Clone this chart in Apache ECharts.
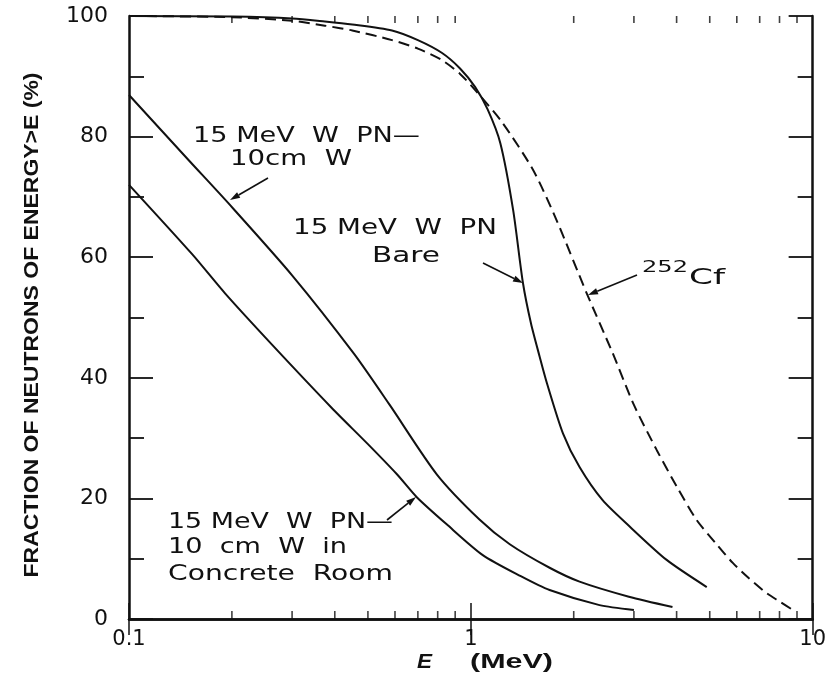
<!DOCTYPE html>
<html><head><meta charset="utf-8">
<script src="https://cdn.jsdelivr.net/npm/echarts@6/dist/echarts.min.js"></script>
<style>html,body{margin:0;padding:0;background:#fff}#c{width:829px;height:685px}</style>
</head><body><div id="c"></div>
<script>
// ---- data ----
const xTickLabels = ['0.1', '1', '10'];
const yTicks = [0, 20, 40, 60, 80, 100];
const minorTickE = [0.2,0.3,0.4,0.5,0.6,0.7,0.8,0.9,2,3,4,5,6,7,8,9];

const bareE = [0.1,0.2,0.3,0.374,0.45,0.588,0.7,0.822,0.93,1.03,1.12,1.22,1.33,1.42,1.5,1.59,1.67,1.86,2.08,2.43,2.92,3.74,4.9];
const bareF = [100,99.9,99.6,99.1,98.6,97.6,96.0,93.9,91.3,88.2,84.5,78.9,67.8,55.8,49.0,43.5,39.1,30.8,25.2,19.7,15.3,9.8,5.3];

const cfE = [0.1,0.2,0.3,0.374,0.45,0.588,0.7,0.822,0.93,1.03,1.23,1.52,1.78,2.18,2.6,3.0,3.5,4.0,4.58,5.2,5.84,6.5,7.33,8.0,8.75];
const cfF = [100,99.8,99.2,98.4,97.6,96.0,94.6,92.7,90.4,87.7,82.5,74.5,66.2,54.1,44.1,35.5,28.0,22.0,16.4,12.6,9.3,6.8,4.3,2.9,1.5];

const wallE = [0.1,0.15,0.195,0.3,0.455,0.579,0.795,1.06,1.3,1.7,2.08,2.9,3.89];
const wallF = [86.9,76.0,69.0,57.0,44.0,35.5,24.0,16.5,12.4,8.5,6.2,3.7,2.0];

const roomE = [0.1,0.153,0.191,0.262,0.392,0.5,0.608,0.695,0.85,1.084,1.4,1.7,2.38,3.0];
const roomF = [72.0,60.5,54.0,45.5,35.0,29.0,24.0,20.2,15.7,10.6,7.1,4.8,2.3,1.5];

const zip = (a, b) => a.map((v, i) => [v, b[i]]);

// ---- helpers for annotation text ----
const mctx = document.createElement('canvas').getContext('2d');
const FAM = '"DejaVu Sans", sans-serif';
function label(str, x0, x1, cy, size, weight, family, style) {
  weight = weight || 'normal'; family = family || FAM; style = style || 'normal';
  mctx.font = `${style} ${weight} ${size}px ${family}`;
  const w = mctx.measureText(str).width;
  return { type: 'text', x: x0, y: cy, scaleX: (x1 - x0) / w, silent: true,
    style: { text: str, x: 0, y: 0, fontSize: size, fontWeight: weight, fontFamily: family, fontStyle: style,
      fill: '#111', align: 'left', verticalAlign: 'middle' } };
}
function arrow(x1, y1, x2, y2) {
  const dx = x2 - x1, dy = y2 - y1, L = Math.hypot(dx, dy), ux = dx / L, uy = dy / L;
  const bx = x2 - ux * 10, by = y2 - uy * 10, px = -uy * 3.2, py = ux * 3.2;
  return [
    { type: 'line', silent: true, shape: { x1, y1, x2: bx, y2: by }, style: { stroke: '#111', lineWidth: 1.6 } },
    { type: 'polygon', silent: true, shape: { points: [[x2, y2], [bx + px, by + py], [bx - px, by - py]] }, style: { fill: '#111' } }
  ];
}

const graphics = [
  label('15 MeV  W  PN—', 193, 420, 137, 21),
  label('10cm  W', 230, 352, 160, 21),
  ...arrow(268, 178, 230, 200),
  label('15 MeV  W  PN', 293, 497, 229, 21),
  label('Bare', 372, 440, 257, 21),
  ...arrow(483, 263, 523, 283),
  label('252', 642, 688, 268, 16),
  label('Cf', 689, 725, 278, 22),
  ...arrow(637, 275, 588, 295),
  label('15 MeV  W  PN—', 168, 393, 523, 21),
  label('10  cm  W  in', 168, 347, 548, 21),
  label('Concrete  Room', 168, 393, 575, 21),
  ...arrow(387, 520, 416, 497),
  label('E', 417, 432, 662, 20, 'bold', '"Liberation Sans", sans-serif', 'italic'),
  label('(MeV)', 470, 553, 662, 20, 'bold', '"Liberation Sans", sans-serif')
];
// y axis title (rotated)
(function () {
  const str = 'FRACTION OF NEUTRONS OF ENERGY>E (%)';
  const size = 21, fam = '"Liberation Sans", sans-serif';
  mctx.font = `bold ${size}px ${fam}`;
  const w = mctx.measureText(str).width;
  graphics.push({ type: 'text', x: 32, y: 325, rotation: Math.PI / 2, scaleX: 505 / w, silent: true,
    style: { text: str, x: 0, y: 0, fontSize: size, fontWeight: 'bold', fontFamily: fam, fill: '#111',
      align: 'center', verticalAlign: 'middle' } });
})();

const axisLineStyle = { color: '#111', width: 2.5 };
const lblFont = { color: '#111', fontSize: 22, fontFamily: FAM };

const lineCommon = { type: 'line', smooth: 0.25, showSymbol: false };

const chart = echarts.init(document.getElementById('c'), null, { renderer: 'canvas' });
chart.setOption({
  animation: false,
  backgroundColor: '#fff',
  grid: { left: 129, right: 16, top: 16, bottom: 66, containLabel: false },
  xAxis: [
    { type: 'log', logBase: 10, min: 0.1, max: 10, position: 'bottom',
      axisLine: { show: true, lineStyle: axisLineStyle },
      axisTick: { show: true, inside: true, length: 16, lineStyle: { color: '#111', width: 1.5 } },
      axisLabel: { ...lblFont, fontSize: 21, margin: 10, formatter: (v) => xTickLabels[Math.round(Math.log10(v)) + 1] },
      splitLine: { show: false } },
    { type: 'log', logBase: 10, min: 0.1, max: 10, position: 'top',
      axisLine: { show: true, lineStyle: axisLineStyle },
      axisTick: { show: true, inside: true, length: 16, lineStyle: { color: '#111', width: 1.5 } },
      axisLabel: { show: false }, splitLine: { show: false } }
  ],
  yAxis: [
    { type: 'value', min: 0, max: 100, interval: 20, position: 'left',
      axisLine: { show: true, lineStyle: axisLineStyle },
      axisTick: { show: true, inside: true, length: 24, lineStyle: { color: '#111', width: 1.8 } },
      minorTick: { show: true, splitNumber: 2, length: 15, lineStyle: { color: '#111', width: 1.8 } },
      axisLabel: { ...lblFont, margin: 21, formatter: (v) => yTicks.includes(v) ? String(v) : '' },
      splitLine: { show: false }, minorSplitLine: { show: false } },
    { type: 'value', min: 0, max: 100, interval: 20, position: 'right',
      axisLine: { show: true, lineStyle: axisLineStyle },
      axisTick: { show: true, inside: true, length: 24, lineStyle: { color: '#111', width: 1.8 } },
      minorTick: { show: true, splitNumber: 2, length: 15, lineStyle: { color: '#111', width: 1.8 } },
      axisLabel: { show: false }, splitLine: { show: false }, minorSplitLine: { show: false } }
  ],
  series: [
    { ...lineCommon, name: '15 MeV W PN Bare', data: zip(bareE, bareF),
      lineStyle: { color: '#111', width: 2 } },
    { ...lineCommon, name: '252Cf', data: zip(cfE, cfF),
      lineStyle: { color: '#111', width: 2, type: [11, 6] } },
    { ...lineCommon, name: '15 MeV W PN - 10cm W', data: zip(wallE, wallF),
      lineStyle: { color: '#111', width: 2 } },
    { ...lineCommon, name: '15 MeV W PN - 10 cm W in Concrete Room', data: zip(roomE, roomF),
      lineStyle: { color: '#111', width: 2 } },
    { name: 'minor ticks bottom', type: 'scatter', data: minorTickE.map(e => [e, 0]), symbol: 'rect',
      symbolSize: [1.6, 8], symbolOffset: [0, -4], itemStyle: { color: '#111' }, clip: false, silent: true, z: 5 },
    { name: 'minor ticks top', type: 'scatter', data: minorTickE.map(e => [e, 100]), symbol: 'rect',
      symbolSize: [1.6, 7], symbolOffset: [0, 3.5], itemStyle: { color: '#111' }, clip: false, silent: true, z: 5 }
  ],
  graphic: graphics
});
</script></body></html>
